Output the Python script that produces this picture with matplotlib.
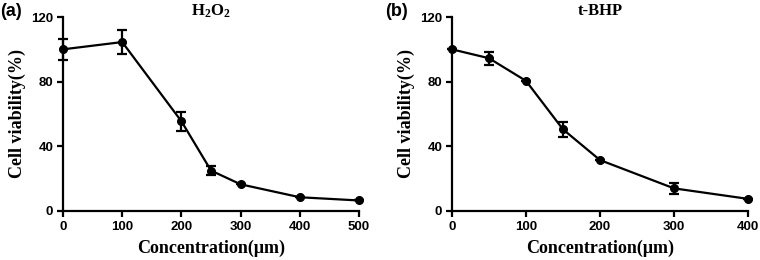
import matplotlib
matplotlib.use('Agg')
import matplotlib.pyplot as plt

plt.rcParams['mathtext.fontset'] = 'custom'
plt.rcParams['mathtext.bf'] = 'Liberation Serif:bold'
plt.rcParams['mathtext.rm'] = 'Liberation Serif:bold'

# H2O2 panel
h2o2_conc = [0, 100, 200, 250, 300, 400, 500]
h2o2_viab = [100, 104.5, 55.5, 25, 16.5, 8.5, 6.5]
h2o2_err = [6.5, 7.5, 6, 3, 0, 0, 0]
h2o2_xticks = [0, 100, 200, 300, 400, 500]

# t-BHP panel
tbhp_conc = [0, 50, 100, 150, 200, 300, 400]
tbhp_viab = [100, 94.5, 80.5, 50.5, 31.5, 14, 7.5]
tbhp_err = [0, 4, 0, 4.5, 0, 3.5, 0]
tbhp_xticks = [0, 100, 200, 300, 400]

yticks = [0, 40, 80, 120]

TICK_FONT = dict(family='Liberation Sans', weight='bold', size=9.5)
LABEL_FONT = dict(family='Liberation Serif', weight='bold', size=13)


def draw_panel(ax, x, y, err, xticks, title, tag, tag_x):
    ax.errorbar(x, y, yerr=err, color='black', lw=1.6, marker='o', ms=5.5,
                capsize=3.5, capthick=1.6, elinewidth=1.6, clip_on=False, zorder=3)
    ax.set_xlim(xticks[0], xticks[-1])
    ax.set_ylim(0, 120)
    ax.set_xticks(xticks)
    ax.set_yticks(yticks)
    ax.set_xticklabels([str(t) for t in xticks], fontdict=TICK_FONT)
    ax.set_yticklabels([str(t) for t in yticks], fontdict=TICK_FONT)
    for side in ('top', 'right'):
        ax.spines[side].set_visible(False)
    for side in ('left', 'bottom'):
        ax.spines[side].set_linewidth(1.6)
    ax.tick_params(width=1.6, length=4, pad=3)
    ax.set_xlabel('Concentration(μm)', fontdict=LABEL_FONT, labelpad=5)
    ax.set_ylabel('Cell viability(%)', fontdict=LABEL_FONT, labelpad=4)
    ax.text(0.5, 1.03, title, transform=ax.transAxes, family='Liberation Serif',
            weight='bold', size=12, ha='center', va='center')
    ax.text(tag_x, 1.03, tag, transform=ax.transAxes, family='Liberation Sans',
            weight='bold', size=13, ha='left', va='center')


fig = plt.figure(figsize=(7.6, 2.6), dpi=100)
ax1 = fig.add_axes([0.0829, 0.1885, 0.3895, 0.7461])
ax2 = fig.add_axes([0.5947, 0.1885, 0.3895, 0.7461])

draw_panel(ax1, h2o2_conc, h2o2_viab, h2o2_err, h2o2_xticks, r'$\mathbf{H_2O_2}$', '(a)', -0.213)
draw_panel(ax2, tbhp_conc, tbhp_viab, tbhp_err, tbhp_xticks, 't-BHP', '(b)', -0.226)

fig.savefig('out.png', dpi=100)
